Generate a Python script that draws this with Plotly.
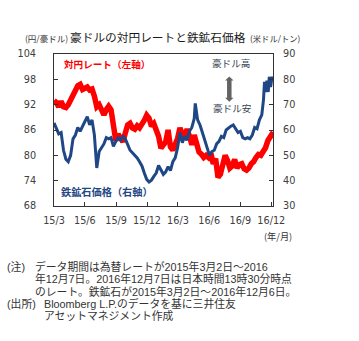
import plotly.graph_objects as go

# ---------------- data ----------------
aud_dates = ["2015-03-02","2015-03-09","2015-03-16","2015-03-23","2015-03-30","2015-04-06","2015-04-13","2015-04-20","2015-04-27",
"2015-05-04","2015-05-11","2015-05-18","2015-05-25","2015-06-01","2015-06-08","2015-06-15","2015-06-22","2015-06-29",
"2015-07-06","2015-07-13","2015-07-20","2015-07-27","2015-08-03","2015-08-10","2015-08-17","2015-08-24","2015-08-31",
"2015-09-07","2015-09-14","2015-09-21","2015-09-28","2015-10-05","2015-10-12","2015-10-19","2015-10-26","2015-11-02",
"2015-11-09","2015-11-16","2015-11-23","2015-11-30","2015-12-07","2015-12-14","2015-12-21","2015-12-28","2016-01-04",
"2016-01-11","2016-01-18","2016-01-25","2016-02-01","2016-02-08","2016-02-15","2016-02-22","2016-02-29","2016-03-07",
"2016-03-14","2016-03-21","2016-03-28","2016-04-04","2016-04-11","2016-04-18","2016-04-25","2016-05-02","2016-05-09",
"2016-05-16","2016-05-23","2016-05-30","2016-06-06","2016-06-13","2016-06-20","2016-06-27","2016-07-04","2016-07-11",
"2016-07-18","2016-07-25","2016-08-01","2016-08-08","2016-08-15","2016-08-22","2016-08-29","2016-09-05","2016-09-12",
"2016-09-19","2016-09-26","2016-10-03","2016-10-10","2016-10-17","2016-10-24","2016-10-31","2016-11-07","2016-11-14",
"2016-11-21","2016-11-28","2016-12-07"]
aud_jpy = [93.0,92.5,91.5,92.8,91.5,91.3,92.0,93.0,94.5,
95.3,96.5,96.8,95.6,95.9,96.2,95.5,95.7,94.0,
91.5,92.0,90.5,89.6,90.8,91.6,90.8,86.5,83.5,
85.0,84.0,83.2,85.3,87.2,87.6,86.5,86.2,87.0,
86.5,87.2,88.3,89.5,88.8,86.9,87.5,86.0,84.5,
81.7,82.3,83.2,86.0,82.0,81.2,82.5,84.0,86.5,
85.0,84.5,86.2,84.5,82.5,84.8,82.0,80.8,80.3,
79.5,80.0,79.5,80.5,78.0,79.2,74.8,75.5,78.5,
80.0,78.8,77.0,77.5,79.0,77.0,77.8,78.0,76.8,
76.5,77.0,78.0,78.5,79.5,80.2,80.0,81.0,81.8,
83.5,84.3,85.5]

ore_dates = ["2015-03-02","2015-03-09","2015-03-16","2015-03-23","2015-03-30","2015-04-06","2015-04-13","2015-04-20","2015-04-27",
"2015-05-04","2015-05-11","2015-05-18","2015-05-25","2015-06-01","2015-06-08","2015-06-15","2015-06-22","2015-06-29",
"2015-07-06","2015-07-13","2015-07-20","2015-07-27","2015-08-03","2015-08-10","2015-08-17","2015-08-24","2015-08-31",
"2015-09-07","2015-09-14","2015-09-21","2015-09-28","2015-10-05","2015-10-12","2015-10-19","2015-10-26","2015-11-02",
"2015-11-09","2015-11-16","2015-11-23","2015-11-30","2015-12-07","2015-12-14","2015-12-21","2015-12-28","2016-01-04",
"2016-01-11","2016-01-18","2016-01-25","2016-02-01","2016-02-08","2016-02-15","2016-02-22","2016-02-29","2016-03-07",
"2016-03-14","2016-03-21","2016-03-28","2016-04-04","2016-04-11","2016-04-18","2016-04-21","2016-04-28","2016-05-05",
"2016-05-12","2016-05-19","2016-05-26","2016-06-02","2016-06-09","2016-06-16","2016-06-23","2016-06-30","2016-07-07",
"2016-07-14","2016-07-21","2016-07-28","2016-08-04","2016-08-11","2016-08-18","2016-08-25","2016-09-01","2016-09-08",
"2016-09-15","2016-09-22","2016-09-29","2016-10-06","2016-10-13","2016-10-20","2016-10-27","2016-11-03","2016-11-08",
"2016-11-11","2016-11-15","2016-11-18","2016-11-22","2016-11-25","2016-11-29","2016-12-02","2016-12-06"]
iron_ore = [62.8,60.5,58.5,59.0,52.0,48.5,47.5,50.0,56.5,
58.0,61.0,59.5,61.5,63.5,65.3,62.0,64.0,58.0,
45.0,51.5,53.0,54.5,57.0,56.5,57.0,53.5,55.5,
57.0,56.0,57.5,56.5,54.0,52.0,51.0,50.0,49.0,
47.5,45.8,43.0,40.5,39.5,40.2,41.7,43.0,46.0,
44.0,42.5,43.5,45.5,44.0,47.5,49.0,53.0,59.0,
55.0,57.5,56.0,59.5,61.0,64.5,70.5,64.0,62.0,
59.0,56.0,52.5,50.0,51.5,52.0,54.5,55.5,57.5,
57.0,60.0,60.8,61.5,62.0,60.5,59.0,59.5,57.0,
56.5,57.0,56.5,58.0,61.0,60.5,64.0,66.0,72.0,
79.0,75.0,79.5,75.0,81.0,77.0,80.0,81.0]

tick_dates = ["2015-03-02","2015-06-01","2015-09-01","2015-12-01","2016-03-01","2016-06-01","2016-09-01","2016-12-01"]
tick_labels = ["15/3","15/6","15/9","15/12","16/3","16/6","16/9","16/12"]
left_ticks = [68, 74, 80, 86, 92, 98, 104]
right_ticks = [30, 40, 50, 60, 70, 80, 90]

note_lines = ["データ期間は為替レートが2015年3月2日～2016",
              "年12月7日。2016年12月7日は日本時間13時30分時点",
              "のレート。鉄鉱石が2015年3月2日～2016年12月6日。"]
source_lines = ["Bloomberg L.P.のデータを基に三井住友",
                "アセットマネジメント作成"]

# ---------------- layout helpers ----------------
W, H = 359, 341
L, R, T, B = 54, 273, 54, 206
def px(x): return (x - L) / (R - L)
def py(y): return (B - y) / (B - T)

TICKFONT = dict(family="DejaVu Sans", size=9.7, color="#404040")
JP = "Noto Sans CJK JP"
NOTE_FONT = "Liberation Sans, Noto Sans CJK JP"

fig = go.Figure()
fig.add_trace(go.Scatter(x=aud_dates, y=aud_jpy, mode="lines",
                         line=dict(color="#ff0000", width=5.5), yaxis="y", showlegend=False))
fig.add_trace(go.Scatter(x=ore_dates, y=iron_ore, mode="lines",
                         line=dict(color="#1f4785", width=3), yaxis="y2", showlegend=False))

ann = []
def text(x, y, s, size, color="#333333", anchor="left", yanchor="middle", bold=False, family=JP):
    ann.append(dict(x=px(x), y=py(y), xref="paper", yref="paper", text=("<b>%s</b>" % s if bold else s),
                    showarrow=False, xanchor=anchor, yanchor=yanchor, align="left",
                    font=dict(family=family, size=size, color=color)))

# title
text(23, 38, "(円/豪ドル)", 8.5, "#333333")
text(68, 37, "豪ドルの対円レートと鉄鉱石価格", 11.7, "#1a1a1a")
text(248, 38, "(米ドル/トン)", 8.3, "#333333")
# in-plot labels
text(62, 64, "対円レート（左軸）", 9.6, "#ff0000", bold=True)
text(59, 191, "鉄鉱石価格（右軸）", 10.2, "#1f4785", bold=True)
text(230.5, 62.5, "豪ドル高", 9.6, "#36414f", anchor="center")
text(232.5, 107.5, "豪ドル安", 9.6, "#36414f", anchor="center")
# double-headed arrow (decoration)
AX = 229.3
shapes = [
    dict(type="line", xref="paper", yref="paper", x0=px(AX), x1=px(AX), y0=py(79.5), y1=py(99),
         line=dict(color="#636363", width=4.5)),
    dict(type="path", xref="paper", yref="paper", fillcolor="#636363", line=dict(width=0),
         path="M %f %f L %f %f L %f %f Z" % (px(AX - 4.2), py(80.5), px(AX), py(76.5), px(AX + 4.2), py(80.5))),
    dict(type="path", xref="paper", yref="paper", fillcolor="#636363", line=dict(width=0),
         path="M %f %f L %f %f L %f %f Z" % (px(AX - 4.2), py(97.8), px(AX), py(101.8), px(AX + 4.2), py(97.8))),
]
# axis unit
text(262, 236, "(年/月)", 9.2, "#333333")
# notes
NS = 10.8
text(5, 266.5, "(注)", NS, family=NOTE_FONT)
for i, s in enumerate(note_lines):
    text(33, 266.5 + 12.4 * i, s, NS, family=NOTE_FONT)
text(5, 303.5, "(出所)", NS, family=NOTE_FONT)
for i, s in enumerate(source_lines):
    text(42, 303.5 + 12.4 * i, s, NS, family=NOTE_FONT)

fig.update_layout(
    width=W, height=H,
    margin=dict(l=L, r=W - R, t=T, b=H - B, pad=0),
    paper_bgcolor="white", plot_bgcolor="white",
    xaxis=dict(type="date", range=["2015-03-02", "2016-12-06"], tickvals=tick_dates, ticktext=tick_labels,
               ticks="inside", ticklen=4, tickcolor="#333333", showgrid=False, zeroline=False,
               showline=True, linecolor="#333333", linewidth=1, mirror=True, tickfont=TICKFONT,
               ticklabelstandoff=5),
    yaxis=dict(range=[68, 104], tickvals=left_ticks, ticks="inside", ticklen=4, tickcolor="#333333",
               showgrid=False, zeroline=False, showline=True, linecolor="#333333", linewidth=1,
               mirror=True, tickfont=TICKFONT, ticklabelstandoff=15),
    yaxis2=dict(range=[30, 90], tickvals=right_ticks, overlaying="y", side="right", ticks="inside",
                ticklen=4, tickcolor="#333333", showgrid=False, zeroline=False, showline=False,
                tickfont=TICKFONT, ticklabelstandoff=9),
    annotations=ann,
    shapes=shapes,
)
fig.write_html("out.html")
